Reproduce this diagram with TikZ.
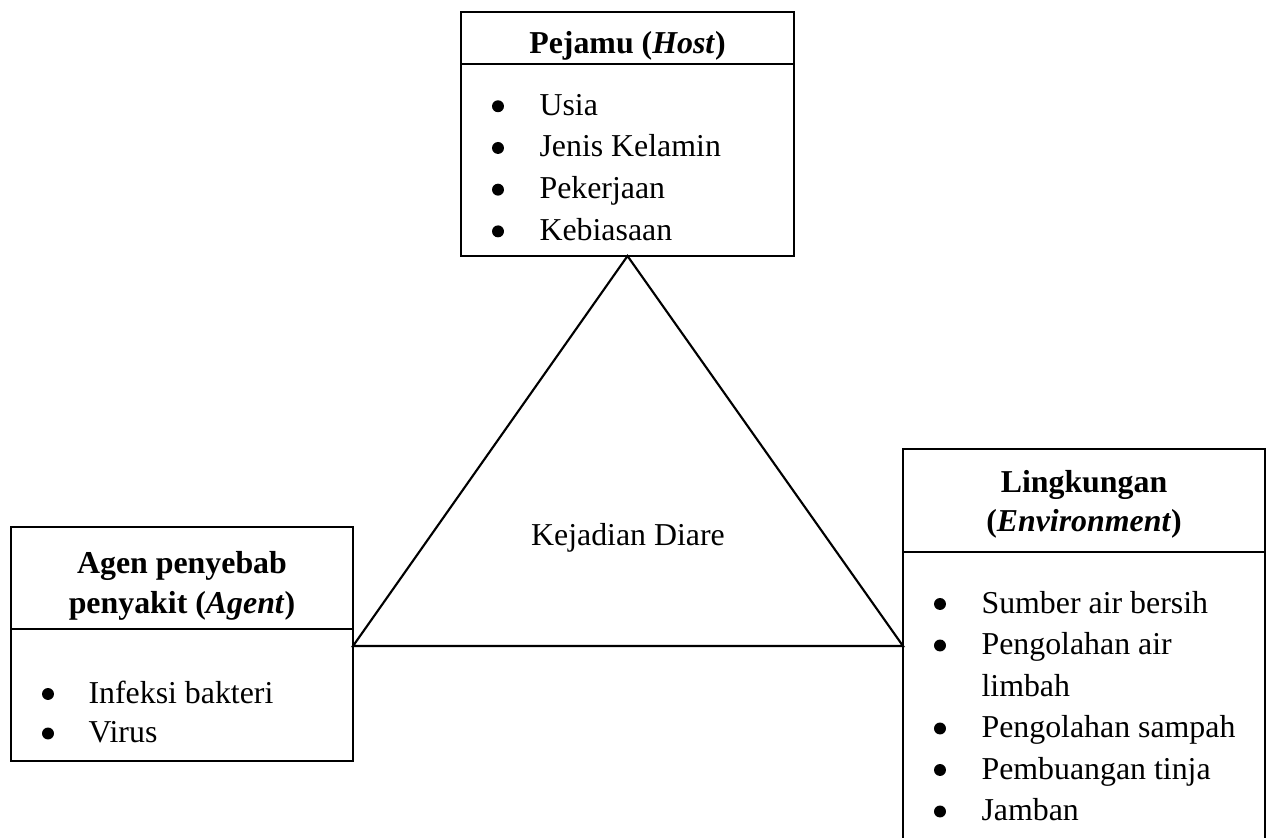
\documentclass[tikz,border=0pt]{standalone}
\usepackage{fontspec}
\setmainfont{Liberation Serif}
\usetikzlibrary{fit}

\tikzset{
  kotak/.style={draw, line width=1.1pt, inner sep=0pt, outer sep=0pt},
  sekat/.style={line width=0.5pt},
  segitiga/.style={line width=0.8pt, line join=miter},
  judul/.style={font=\fontsize{12}{15}\selectfont\bfseries, anchor=base, inner sep=0pt},
  teks/.style={font=\fontsize{12}{15}\selectfont, inner sep=0pt},
  butir/.style={teks, anchor=base west},
  titik/.style={circle, fill, inner sep=0pt, minimum size=4.5pt, yshift=3.4pt},
}

\begin{document}
\begin{tikzpicture}[x=0.37665pt,y=-0.37665pt]
  \useasboundingbox (0,0) rectangle (1273,838);
  \clip (0,0) rectangle (1273,838);

  % sudut kotak
  \coordinate (H1) at (461,12);
  \coordinate (H2) at (794,256);
  \coordinate (A1) at (11,527);
  \coordinate (A2) at (353,761);
  \coordinate (E1) at (903,449);
  \coordinate (E2) at (1265,880);

  % kotak Host, Agent, Environment
  \node[kotak, fit=(H1)(H2)] (host) {};
  \node[kotak, fit=(A1)(A2)] (agent) {};
  \node[kotak, fit=(E1)(E2)] (env) {};

  % garis sekat judul
  \draw[sekat] (host.west |- 0,64) -- (host.east |- 0,64);
  \draw[sekat] (agent.west |- 0,629) -- (agent.east |- 0,629);
  \draw[sekat] (env.west |- 0,552) -- (env.east |- 0,552);

  % segitiga
  \coordinate (kiri) at (agent.east |- 0,646);
  \coordinate (kanan) at (env.west |- 0,646);
  \draw[segitiga] (host.south) -- (kanan) -- (kiri) -- cycle;
  \node[teks, anchor=base] (kejadian) at (628,545) {Kejadian Diare};

  % judul kotak
  \node[judul] (hostjudul) at (627.5,53.3) {Pejamu (\textit{Host})};
  \node[judul] (agentjudul1) at (182,573.3) {Agen penyebab};
  \node[judul] (agentjudul2) at (182,613) {penyakit (\textit{Agent})};
  \node[judul] (envjudul1) at (1084,492) {Lingkungan};
  \node[judul] (envjudul2) at (1084,531) {(\textit{Environment})};

  % isi Host
  \foreach \isi [count=\i] in {Usia, Jenis Kelamin, Pekerjaan, Kebiasaan} {
    \node[titik] (hostb\i) at (498,{115.3+41.7*(\i-1)}) {};
    \node[butir] (hosti\i) at (539,{115.3+41.7*(\i-1)}) {\isi};
  }

  % isi Agent
  \foreach \y/\isi [count=\i] in {703/Infeksi bakteri, 742.5/Virus} {
    \node[titik] (agentb\i) at (48,\y) {};
    \node[butir] (agenti\i) at (88,\y) {\isi};
  }

  % isi Environment
  \foreach \y/\isi [count=\i] in {613/Sumber air bersih, 654.5/Pengolahan air,
      737.5/Pengolahan sampah, 779/Pembuangan tinja, 820.5/Jamban} {
    \node[titik] (envb\i) at (940,\y) {};
    \node[butir] (envi\i) at (981,\y) {\isi};
  }
  \node[butir] (envlanjut) at (981,696) {limbah};
\end{tikzpicture}
\end{document}
